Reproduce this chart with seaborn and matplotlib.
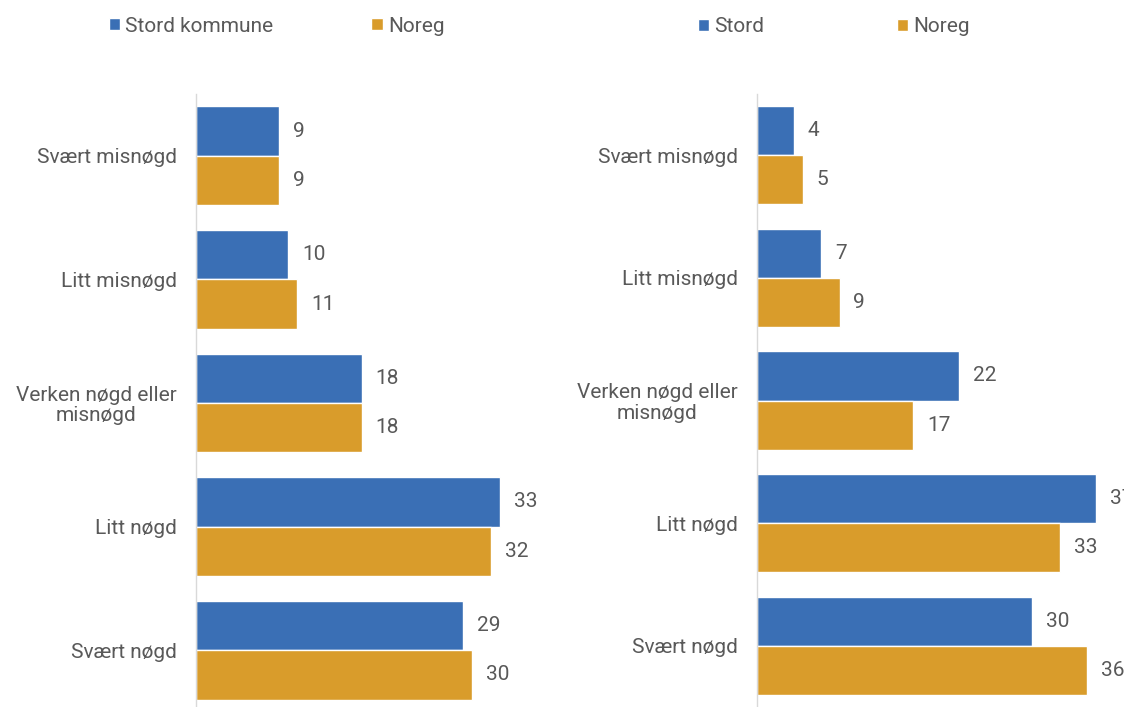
import matplotlib.pyplot as plt
import pandas as pd
import seaborn as sns

# Data
categories = ['Svært misnøgd', 'Litt misnøgd', 'Verken nøgd eller\nmisnøgd', 'Litt nøgd', 'Svært nøgd']
left_series = ['Stord kommune', 'Noreg']
left_stord = [9, 10, 18, 33, 29]
left_noreg = [9, 11, 18, 32, 30]
right_series = ['Stord', 'Noreg']
right_stord = [4, 7, 22, 37, 30]
right_noreg = [5, 9, 17, 33, 36]

blue = '#3A6FB5'
orange = '#D99C2B'
grey_text = '#595959'
fs = 15

sns.set_theme(style='white')
plt.rcParams['font.family'] = ['Roboto', 'DejaVu Sans']


def long_df(names, a, b):
    return pd.DataFrame({
        'kategori': categories * 2,
        'serie': [names[0]] * len(categories) + [names[1]] * len(categories),
        'verdi': a + b,
    })


fig = plt.figure(figsize=(11.24, 7.07), dpi=100)
ax1 = fig.add_axes([196 / 1124, 0.0, 364 / 1124, 613 / 707])
ax2 = fig.add_axes([757 / 1124, 0.0, 367 / 1124, 613 / 707])

panels = [
    (ax1, left_series, left_stord, left_noreg, (90 / 1124, 1 - 26 / 707), 4.7, 4.46, 39.5),
    (ax2, right_series, right_stord, right_noreg, (679 / 1124, 1 - 27 / 707), 6.35, 4.5, 40),
]

for ax, names, a, b, leg_pos, colsp, ybottom, xmax in panels:
    df = long_df(names, a, b)
    sns.barplot(data=df, y='kategori', x='verdi', hue='serie', orient='h',
                palette=[blue, orange], width=0.8, ax=ax, saturation=1)
    for cont in ax.containers:
        ax.bar_label(cont, padding=10, fontsize=fs, color=grey_text)
    ax.set_xlim(0, xmax)
    ax.set_ylim(ybottom, -0.5)
    ax.set_xlabel('')
    ax.set_ylabel('')
    ax.set_xticks([])
    ax.tick_params(axis='y', length=0, pad=14, labelsize=fs, labelcolor=grey_text)
    for lbl in ax.get_yticklabels():
        lbl.set_multialignment('center')
        lbl.set_linespacing(1.1)
    for side in ['top', 'right', 'bottom']:
        ax.spines[side].set_visible(False)
    ax.spines['left'].set_color('#d9d9d9')
    ax.spines['left'].set_linewidth(1)
    handles, labels = ax.get_legend_handles_labels()
    ax.legend(handles, labels, loc='center left', bbox_to_anchor=leg_pos,
              bbox_transform=fig.transFigure, ncol=2, frameon=False,
              handlelength=0.55, handleheight=0.55, handletextpad=0.25,
              columnspacing=colsp, fontsize=fs, labelcolor=grey_text)

fig.savefig('out.png', dpi=100)
